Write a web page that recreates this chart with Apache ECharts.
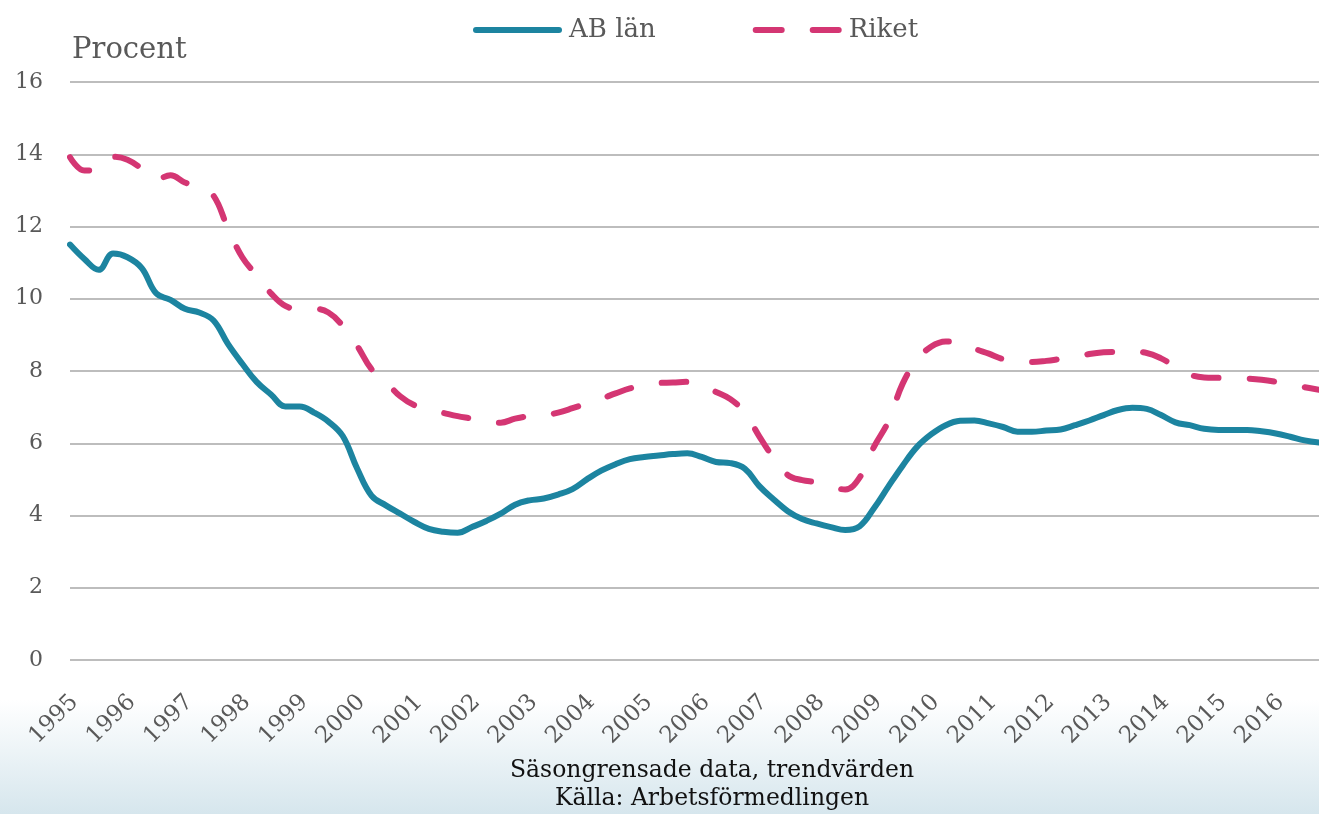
<!DOCTYPE html>
<html>
<head>
<meta charset="utf-8">
<title>Arbetslöshet AB län och riket</title>
<script src="https://cdn.jsdelivr.net/npm/echarts@6/dist/echarts.min.js"></script>
<style>
  html, body { margin: 0; padding: 0; background: #fff; }
  #main { width: 1319px; height: 814px; }
</style>
</head>
<body>
<div id="main"></div>
<script>
// years on the x axis, one category per quarter
var years = [1995, 1996, 1997, 1998, 1999, 2000, 2001, 2002, 2003, 2004, 2005,
  2006, 2007, 2008, 2009, 2010, 2011, 2012, 2013, 2014, 2015, 2016];
var yTicks = [0, 2, 4, 6, 8, 10, 12, 14, 16];

// AB län, procent (quarterly readings)
var abLan = [
  11.5, 11.1, 10.8, 11.25,   // 1995
  11.15, 10.85, 10.15, 9.97, // 1996
  9.72, 9.62, 9.4, 8.75,     // 1997
  8.2, 7.7, 7.35, 7.02,      // 1998
  7.02, 6.85, 6.6, 6.2,      // 1999
  5.3, 4.55, 4.28, 4.05,     // 2000
  3.82, 3.63, 3.55, 3.52,    // 2001
  3.68, 3.85, 4.05, 4.3,     // 2002
  4.42, 4.47, 4.58, 4.73,    // 2003
  5.0, 5.24, 5.42, 5.56,     // 2004
  5.62, 5.66, 5.7, 5.72,     // 2005
  5.62, 5.48, 5.45, 5.3,     // 2006
  4.82, 4.45, 4.12, 3.9,     // 2007
  3.78, 3.68, 3.6, 3.7,      // 2008
  4.2, 4.8, 5.38, 5.9,       // 2009
  6.25, 6.5, 6.62, 6.63,     // 2010
  6.55, 6.45, 6.32, 6.32,    // 2011
  6.35, 6.38, 6.5, 6.63,     // 2012
  6.78, 6.92, 6.98, 6.95,    // 2013
  6.78, 6.58, 6.5, 6.4,      // 2014
  6.37, 6.37, 6.37, 6.33,    // 2015
  6.27, 6.18, 6.08, 6.02     // 2016
];

// Riket, procent (quarterly readings)
var riket = [
  13.92, 13.55, 13.6, 13.93,  // 1995
  13.85, 13.6, 13.3, 13.42,   // 1996
  13.22, 13.1, 12.85, 11.95,  // 1997
  11.15, 10.65, 10.15, 9.8,   // 1998
  9.72, 9.72, 9.62, 9.25,     // 1999
  8.7, 8.05, 7.7, 7.3,        // 2000
  7.05, 6.93, 6.84, 6.75,     // 2001
  6.68, 6.6, 6.57, 6.68,      // 2002
  6.75, 6.77, 6.85, 6.97,     // 2003
  7.1, 7.23, 7.38, 7.52,      // 2004
  7.6, 7.67, 7.68, 7.7,       // 2005
  7.58, 7.42, 7.22, 6.85,     // 2006
  6.2, 5.6, 5.12, 4.98,       // 2007
  4.92, 4.8, 4.72, 5.05,      // 2008
  5.9, 6.6, 7.65, 8.3,        // 2009
  8.68, 8.82, 8.8, 8.62,      // 2010
  8.48, 8.33, 8.27, 8.25,     // 2011
  8.28, 8.33, 8.38, 8.47,     // 2012
  8.52, 8.53, 8.53, 8.5,      // 2013
  8.35, 8.12, 7.9, 7.82,      // 2014
  7.81, 7.8, 7.79, 7.76,      // 2015
  7.7, 7.62, 7.55, 7.48       // 2016
];

var quarters = [];
years.forEach(function (y) {
  for (var q = 1; q <= 4; q++) quarters.push(y + ' K' + q);
});

var serif = 'DejaVu Serif';
var grey = '#595959';
var teal = '#1c84a0';
var pink = '#d43673';

// legend icons: solid bar and two dashes with round ends
var solidIcon = 'path://M3,0H86A3,3 0 0 1 86,6H3A3,3 0 0 1 3,0Z';
var dashIcon = 'path://M3,0H29A3,3 0 0 1 29,6H3A3,3 0 0 1 3,0ZM60,0H86A3,3 0 0 1 86,6H60A3,3 0 0 1 60,0Z';

var chart = echarts.init(document.getElementById('main'));
chart.setOption({
  animation: false,
  backgroundColor: '#fff',
  textStyle: { fontFamily: serif },
  graphic: [
    {
      type: 'rect',
      z: -10,
      shape: { x: 0, y: 700, width: 1319, height: 114 },
      style: {
        fill: new echarts.graphic.LinearGradient(0, 0, 0, 1, [
          { offset: 0, color: 'rgba(214,230,237,0)' },
          { offset: 1, color: 'rgba(214,230,237,1)' }
        ])
      },
      silent: true
    },
    {
      type: 'text',
      x: 712,
      y: 771,
      style: {
        text: 'Säsongrensade data, trendvärden',
        font: '23.5px "DejaVu Serif"',
        fill: '#111',
        textAlign: 'center',
        textVerticalAlign: 'middle'
      }
    },
    {
      type: 'text',
      x: 712,
      y: 799,
      style: {
        text: 'Källa: Arbetsförmedlingen',
        font: '23.5px "DejaVu Serif"',
        fill: '#111',
        textAlign: 'center',
        textVerticalAlign: 'middle'
      }
    }
  ],
  legend: {
    top: 12,
    left: 468,
    itemWidth: 89,
    itemHeight: 6,
    itemGap: 97,
    textStyle: { color: grey, fontSize: 26, fontFamily: serif, padding: [0, 0, 0, 2] },
    data: [
      { name: 'AB län', icon: solidIcon },
      { name: 'Riket', icon: dashIcon }
    ]
  },
  grid: { left: 70, right: 0, top: 82, bottom: 154 },
  xAxis: {
    type: 'category',
    boundaryGap: false,
    data: quarters,
    axisLine: { show: false },
    axisTick: { show: false },
    axisLabel: {
      interval: 3,
      rotate: 45,
      margin: 34,
      verticalAlign: 'top',
      lineHeight: 13,
      color: grey,
      fontSize: 23,
      fontFamily: serif,
      formatter: function (v) { return v.slice(0, 4); }
    }
  },
  yAxis: {
    type: 'value',
    min: yTicks[0],
    max: yTicks[yTicks.length - 1],
    interval: 2,
    name: 'Procent',
    nameLocation: 'end',
    nameGap: 32,
    nameTextStyle: { color: grey, fontSize: 29, fontFamily: serif, align: 'left', verticalAlign: 'middle', padding: [0, 0, 0, 2] },
    axisLine: { show: false },
    axisTick: { show: false },
    axisLabel: { color: grey, fontSize: 22, fontFamily: serif, margin: 27 },
    splitLine: { lineStyle: { color: '#bdbdbd', width: 2 } }
  },
  series: [
    {
      name: 'AB län',
      type: 'line',
      data: abLan,
      smooth: 0.4,
      symbol: 'none',
      color: teal,
      lineStyle: { color: teal, width: 6, cap: 'round', join: 'round' }
    },
    {
      name: 'Riket',
      type: 'line',
      data: riket,
      smooth: 0.4,
      symbol: 'none',
      color: pink,
      lineStyle: { color: pink, width: 6, type: [25, 31], cap: 'round', join: 'round' }
    }
  ]
});
</script>
</body>
</html>
